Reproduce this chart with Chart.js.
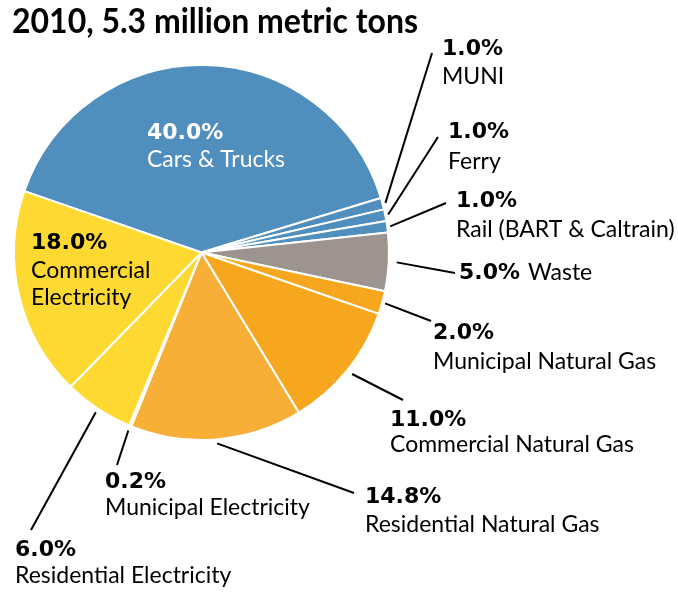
<!DOCTYPE html>
<html>
<head>
<meta charset="utf-8">
<script src="https://cdn.jsdelivr.net/npm/chart.js@4.4.1/dist/chart.umd.min.js"></script>
<style>
  html, body { margin: 0; padding: 0; background: #fff; }
  #wrap { width: 678px; height: 594px; position: relative; }
</style>
</head>
<body>
<div id="wrap"><canvas id="chart"></canvas></div>
<script>
const title = '2010, 5.3 million metric tons';

const categories = [
    'Cars & Trucks', 'MUNI', 'Ferry', 'Rail (BART & Caltrain)', 'Waste',
    'Municipal Natural Gas', 'Commercial Natural Gas', 'Residential Natural Gas',
    'Municipal Electricity', 'Residential Electricity', 'Commercial Electricity'
];
const shares = [40.0, 1.0, 1.0, 1.0, 5.0, 2.0, 11.0, 14.8, 0.2, 6.0, 18.0];
const shareLabels = ['40.0%', '1.0%', '1.0%', '1.0%', '5.0%', '2.0%', '11.0%', '14.8%', '0.2%', '6.0%', '18.0%'];
const sliceColors = [
    '#508fbd', '#508fbd', '#508fbd', '#508fbd', '#9d9490',
    '#f7a71e', '#f7a71e', '#f8af37', '#fdd931', '#fdd931', '#fdd931'
];

// where each label sits: x, y of the percent line, y of the name lines,
// leader end point (if any) and gap from the rim
const labelLayout = [
    { x: 147, y: 133, names: [160], color: '#fff' },
    { x: 442, y: 49, names: [77], end: [432, 53], gap: 3 },
    { x: 448, y: 132, names: [162], end: [438, 137], gap: 3 },
    { x: 456, y: 201, names: [230], end: [446, 203], gap: 3 },
    { x: 459, y: 273, inline: true, end: [455, 273], gap: 8 },
    { x: 433, y: 333, names: [362], end: [431, 321], gap: 3 },
    { x: 390, y: 420, names: [445], end: [403, 400], gap: 6 },
    { x: 365, y: 497, names: [525], end: [354, 493], gap: 4 },
    { x: 105, y: 482, names: [508], end: [117, 465], gap: 5 },
    { x: 15, y: 550, names: [576], end: [31, 530], gap: 4 },
    { x: 31, y: 243, names: [271, 298], lines: ['Commercial', 'Electricity'] }
];

const FONT = 'Lato, "Open Sans", sans-serif';
const PCT_FONT = 'bold 22px "DejaVu Sans", sans-serif';

const labelPlugin = {
    id: 'pieLabels',
    afterDraw(chart) {
        const ctx = chart.ctx;
        const arcs = chart.getDatasetMeta(0).data;
        ctx.save();

        ctx.fillStyle = '#000';
        ctx.textBaseline = 'alphabetic';
        ctx.font = 'bold 34px ' + FONT;
        ctx.fillText(title, 12, 33, 406);

        ctx.textBaseline = 'middle';
        arcs.forEach((arc, i) => {
            const lay = labelLayout[i];
            const { x, y, startAngle, endAngle, outerRadius } = arc.getProps(['x', 'y', 'startAngle', 'endAngle', 'outerRadius'], true);

            if (lay.end) {
                const mid = (startAngle + endAngle) / 2;
                const r = outerRadius + lay.gap;
                ctx.beginPath();
                ctx.moveTo(x + Math.cos(mid) * r, y + Math.sin(mid) * r);
                ctx.lineTo(lay.end[0], lay.end[1]);
                ctx.strokeStyle = '#000';
                ctx.lineWidth = 2;
                ctx.stroke();
            }

            ctx.fillStyle = lay.color || '#000';
            ctx.font = PCT_FONT;
            ctx.fillText(shareLabels[i], lay.x, lay.y);
            const pctWidth = ctx.measureText(shareLabels[i]).width;

            ctx.font = '23px ' + FONT;
            if (lay.inline) {
                ctx.fillText(categories[i], lay.x + pctWidth + 8, lay.y);
            } else {
                const lines = lay.lines || [categories[i]];
                lines.forEach((t, k) => ctx.fillText(t, lay.x, lay.names[k]));
            }
        });
        ctx.restore();
    }
};

new Chart(document.getElementById('chart'), {
    type: 'pie',
    data: {
        labels: categories,
        datasets: [{
            data: shares,
            backgroundColor: sliceColors,
            borderColor: '#fff',
            borderWidth: 2,
            hoverOffset: 0
        }]
    },
    options: {
        responsive: true,
        maintainAspectRatio: false,
        animation: false,
        rotation: -70.9,
        layout: { padding: { left: 13, top: 64, right: 288, bottom: 153 } },
        plugins: {
            legend: { display: false },
            tooltip: { enabled: false }
        }
    },
    plugins: [labelPlugin]
});
</script>
</body>
</html>
